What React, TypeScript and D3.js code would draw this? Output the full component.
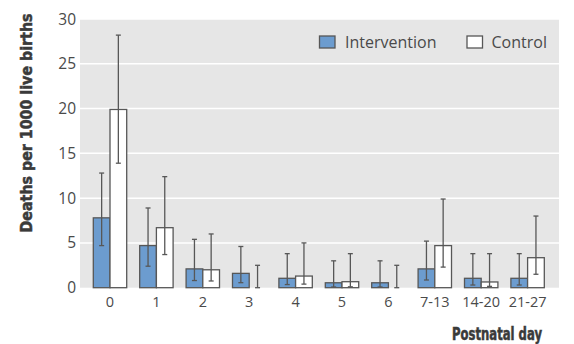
import React from "react";
import * as d3 from "d3";

const categories = ["0", "1", "2", "3", "4", "5", "6", "7-13", "14-20", "21-27"];
const interventionValues = [7.8, 4.7, 2.1, 1.6, 1.05, 0.55, 0.55, 2.1, 1.05, 1.05];
const interventionLower = [4.7, 2.4, 0.8, 0.56, 0.35, 0.08, 0.08, 0.86, 0.3, 0.3];
const interventionUpper = [12.8, 8.9, 5.4, 4.6, 3.8, 3.0, 3.0, 5.2, 3.8, 3.8];
const controlValues = [19.9, 6.7, 2.0, 0, 1.3, 0.67, 0, 4.7, 0.64, 3.35];
const controlLower = [13.9, 3.7, 0.75, 0, 0.4, 0.1, 0, 2.3, 0.15, 1.5];
const controlUpper = [28.2, 12.4, 6.0, 2.5, 5.0, 3.8, 2.5, 9.9, 3.8, 8.0];
const yTicks = [0, 5, 10, 15, 20, 25, 30];
const seriesNames = ["Intervention", "Control"];

const W = 574;
const H = 344;
const plotLeft = 80;
const plotRight = 559;
const plotTop = 19;
const plotBottom = 287.7;

const BLUE = "#6c9ccf";
const STROKE = "#575757";
const BG = "#e6e6e6";
const TEXT = "#4a4a4a";

export default function App() {
  const y = d3.scaleLinear().domain([0, 30]).range([plotBottom, plotTop]);
  const x = d3.scaleBand<string>().domain(categories).range([86.8, 550.8]).paddingInner(0.28).paddingOuter(0.14);
  const sub = d3.scaleBand<string>().domain(seriesNames).range([0, x.bandwidth()]);
  const bw = sub.bandwidth();

  const series = [
    { name: "Intervention", vals: interventionValues, lo: interventionLower, hi: interventionUpper, fill: BLUE },
    { name: "Control", vals: controlValues, lo: controlLower, hi: controlUpper, fill: "#ffffff" },
  ];

  return (
    <svg width={W} height={H} style={{ position: "absolute", left: 0, top: 0 }}>
      <rect x={plotLeft} y={plotTop} width={plotRight - plotLeft} height={plotBottom - plotTop} fill={BG} />
      {yTicks.filter((t) => t > 0).map((t) => (
        <line key={t} x1={plotLeft} x2={plotRight} y1={y(t)} y2={y(t)} stroke="#ffffff" strokeWidth={1.5} />
      ))}
      {yTicks.map((t) => (
        <text key={t} x={76} y={y(t) + 5.5} textAnchor="end" fontFamily="Open Sans" fontSize={15.5} fill={TEXT}>
          {t}
        </text>
      ))}
      {series.map((s) =>
        categories.map((c, i) => {
          const x0 = (x(c) as number) + (sub(s.name) as number);
          const v = s.vals[i];
          return (
            <g key={s.name + c}>
              {v > 0 && (
                <rect x={x0} y={y(v)} width={bw} height={y(0) - y(v)} fill={s.fill} stroke={STROKE} strokeWidth={1.3} />
              )}
            </g>
          );
        })
      )}
      {series.map((s) =>
        categories.map((c, i) => {
          const x0 = (x(c) as number) + (sub(s.name) as number);
          const cx = x0 + bw / 2;
          const lo = y(s.lo[i]);
          const hi = y(s.hi[i]);
          return (
            <g key={"e" + s.name + c} stroke={STROKE} strokeWidth={1.3}>
              <line x1={cx} x2={cx} y1={lo} y2={hi} />
              <line x1={cx - 2.5} x2={cx + 2.5} y1={hi} y2={hi} />
              <line x1={cx - 2.5} x2={cx + 2.5} y1={lo} y2={lo} />
            </g>
          );
        })
      )}
      {categories.map((c) => (
        <text
          key={"xt" + c}
          x={(x(c) as number) + x.bandwidth() / 2}
          y={306.5}
          textAnchor="middle"
          fontFamily="Open Sans"
          fontSize={14.5}
          fill={TEXT}
        >
          {c}
        </text>
      ))}
      <g>
        <rect x={319.5} y={36} width={15.5} height={12} fill={BLUE} stroke={STROKE} strokeWidth={1.3} />
        <text x={345} y={48} fontFamily="Open Sans" fontSize={16} fill={TEXT}>
          {seriesNames[0]}
        </text>
        <rect x={467} y={36} width={15.5} height={12} fill="#ffffff" stroke={STROKE} strokeWidth={1.3} />
        <text x={491.5} y={48} fontFamily="Open Sans" fontSize={16} fill={TEXT}>
          {seriesNames[1]}
        </text>
      </g>
      <text
        transform="translate(32,123) rotate(-90)"
        textAnchor="middle"
        fontFamily="DejaVu Sans Condensed"
        fontWeight="bold"
        fontSize={16}
        fill="#3a3a3a"
        stroke="#3a3a3a"
        strokeWidth={0.5}
        textLength={219}
        lengthAdjust="spacingAndGlyphs"
      >
        Deaths per 1000 live births
      </text>
      <text
        x={542}
        y={339.5}
        textAnchor="end"
        fontFamily="DejaVu Sans Condensed"
        fontWeight="bold"
        fontSize={17}
        fill="#3a3a3a"
        stroke="#3a3a3a"
        strokeWidth={0.5}
        textLength={90}
        lengthAdjust="spacingAndGlyphs"
      >
        Postnatal day
      </text>
    </svg>
  );
}
